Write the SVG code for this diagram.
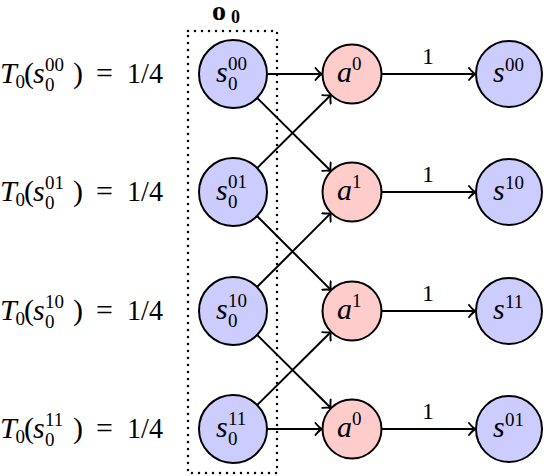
<svg xmlns="http://www.w3.org/2000/svg" width="544" height="476" viewBox="0 0 544 476">
<style>
.sn{fill:#ccccff;stroke:#000;stroke-width:2}
.an{fill:#ffcccc;stroke:#000;stroke-width:2}
.m{font-family:'Liberation Serif','DejaVu Serif',serif;font-style:italic;font-size:30px;fill:#000}
.r{font-family:'Liberation Serif','DejaVu Serif',serif;font-size:30px;fill:#000}
.sc{font-family:'Liberation Serif','DejaVu Serif',serif;font-size:19px;fill:#000}
.e{stroke:#000;stroke-width:2;fill:none}
.lb{font-family:'Liberation Serif','DejaVu Serif',serif;font-size:24px;fill:#000;text-anchor:middle}
.bo{font-family:'Liberation Serif','DejaVu Serif',serif;font-weight:bold;fill:#000}
</style>
<defs>
<marker id="ar" markerUnits="userSpaceOnUse" markerWidth="14" markerHeight="14" viewBox="-10 -7 12 14" refX="0" refY="0" orient="auto">
<path d="M -6.5 -6 Q -2.5 -1 0 0 Q -2.5 1 -6.5 6" fill="none" stroke="#000" stroke-width="1.9" stroke-linecap="round"/>
</marker>
</defs>
<rect x="188" y="31" width="89" height="442" fill="none" stroke="#000" stroke-width="2.5" stroke-dasharray="0 7" stroke-linecap="round"/>
<text class="bo" x="212" y="20" font-size="28">o</text>
<text class="bo" x="231" y="23" font-size="18">0</text>

<g id="labels">
<g id="t00"><text class="m" x="0" y="83">T</text><text class="sc" x="15.5" y="88">0</text><text class="r" x="24" y="83">(</text><text class="m" x="33" y="83">s</text><text class="sc" x="45" y="71">00</text><text class="sc" x="45" y="91">0</text><text class="r" x="73" y="83">)</text><text class="r" x="96" y="83">=</text><text class="r" x="127" y="83" textLength="36" lengthAdjust="spacingAndGlyphs">1/4</text></g>
<g id="t01"><text class="m" x="0" y="201">T</text><text class="sc" x="15.5" y="206">0</text><text class="r" x="24" y="201">(</text><text class="m" x="33" y="201">s</text><text class="sc" x="45" y="189">01</text><text class="sc" x="45" y="209">0</text><text class="r" x="73" y="201">)</text><text class="r" x="96" y="201">=</text><text class="r" x="127" y="201" textLength="36" lengthAdjust="spacingAndGlyphs">1/4</text></g>
<g id="t10"><text class="m" x="0" y="320">T</text><text class="sc" x="15.5" y="325">0</text><text class="r" x="24" y="320">(</text><text class="m" x="33" y="320">s</text><text class="sc" x="45" y="308">10</text><text class="sc" x="45" y="328">0</text><text class="r" x="73" y="320">)</text><text class="r" x="96" y="320">=</text><text class="r" x="127" y="320" textLength="36" lengthAdjust="spacingAndGlyphs">1/4</text></g>
<g id="t11"><text class="m" x="0" y="438">T</text><text class="sc" x="15.5" y="443">0</text><text class="r" x="24" y="438">(</text><text class="m" x="33" y="438">s</text><text class="sc" x="45" y="426">11</text><text class="sc" x="45" y="446">0</text><text class="r" x="73" y="438">)</text><text class="r" x="96" y="438">=</text><text class="r" x="127" y="438" textLength="36" lengthAdjust="spacingAndGlyphs">1/4</text></g>
</g>

<g id="connectors">
<line class="e" x1="267" y1="74" x2="322" y2="74" marker-end="url(#ar)"/>
<line class="e" x1="257.1" y1="97.9" x2="331.1" y2="171.2" marker-end="url(#ar)"/>
<line class="e" x1="257.1" y1="168.1" x2="331.1" y2="94.8" marker-end="url(#ar)"/>
<line class="e" x1="257" y1="216" x2="331.1" y2="290.1" marker-end="url(#ar)"/>
<line class="e" x1="257" y1="287" x2="331.1" y2="212.9" marker-end="url(#ar)"/>
<line class="e" x1="257.1" y1="334.9" x2="331.1" y2="408.2" marker-end="url(#ar)"/>
<line class="e" x1="257.1" y1="405.1" x2="331.1" y2="331.8" marker-end="url(#ar)"/>
<line class="e" x1="267" y1="429" x2="322" y2="429" marker-end="url(#ar)"/>
<line class="e" x1="381.5" y1="74" x2="475.5" y2="74" marker-end="url(#ar)"/>
<line class="e" x1="381.5" y1="192" x2="475.5" y2="192" marker-end="url(#ar)"/>
<line class="e" x1="381.5" y1="311" x2="475.5" y2="311" marker-end="url(#ar)"/>
<line class="e" x1="381.5" y1="429" x2="475.5" y2="429" marker-end="url(#ar)"/>
<text class="lb" x="428" y="64">1</text>
<text class="lb" x="428" y="182">1</text>
<text class="lb" x="428" y="301">1</text>
<text class="lb" x="428" y="419">1</text>
</g>

<g id="s0_00"><circle class="sn" cx="233" cy="74" r="34"/><text class="m" x="216" y="82">s</text><text class="sc" x="228" y="70">00</text><text class="sc" x="228" y="90">0</text></g>
<g id="s0_01"><circle class="sn" cx="233" cy="192" r="34"/><text class="m" x="216" y="200">s</text><text class="sc" x="228" y="188">01</text><text class="sc" x="228" y="208">0</text></g>
<g id="s0_10"><circle class="sn" cx="233" cy="311" r="34"/><text class="m" x="216" y="319">s</text><text class="sc" x="228" y="307">10</text><text class="sc" x="228" y="327">0</text></g>
<g id="s0_11"><circle class="sn" cx="233" cy="429" r="34"/><text class="m" x="216" y="437">s</text><text class="sc" x="228" y="425">11</text><text class="sc" x="228" y="445">0</text></g>

<g id="a0_1"><circle class="an" cx="352" cy="74" r="29.5"/><text class="m" x="337" y="82">a</text><text class="sc" x="352" y="70">0</text></g>
<g id="a1_2"><circle class="an" cx="352" cy="192" r="29.5"/><text class="m" x="337" y="200">a</text><text class="sc" x="352" y="188">1</text></g>
<g id="a1_3"><circle class="an" cx="352" cy="311" r="29.5"/><text class="m" x="337" y="319">a</text><text class="sc" x="352" y="307">1</text></g>
<g id="a0_4"><circle class="an" cx="352" cy="429" r="29.5"/><text class="m" x="337" y="437">a</text><text class="sc" x="352" y="425">0</text></g>

<g id="s00"><circle class="sn" cx="509" cy="74" r="33"/><text class="m" x="493" y="82">s</text><text class="sc" x="505" y="71">00</text></g>
<g id="s10"><circle class="sn" cx="509" cy="192" r="33"/><text class="m" x="493" y="200">s</text><text class="sc" x="505" y="189">10</text></g>
<g id="s11"><circle class="sn" cx="509" cy="311" r="33"/><text class="m" x="493" y="319">s</text><text class="sc" x="505" y="308">11</text></g>
<g id="s01"><circle class="sn" cx="509" cy="429" r="33"/><text class="m" x="493" y="437">s</text><text class="sc" x="505" y="426">01</text></g>
</svg>
